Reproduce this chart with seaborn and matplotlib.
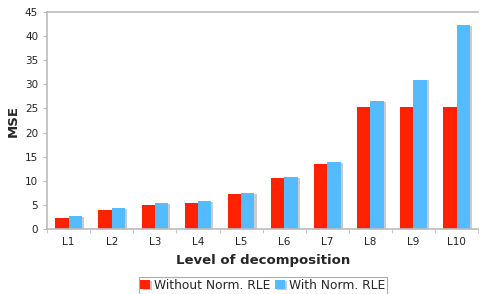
import pandas as pd
import numpy as np
import matplotlib
matplotlib.use("Agg")
import matplotlib.pyplot as plt
import matplotlib.patheffects as pe
import seaborn as sns

# values
levels = ['L1', 'L2', 'L3', 'L4', 'L5', 'L6', 'L7', 'L8', 'L9', 'L10']
without_norm = [2.2, 4.0, 5.0, 5.5, 7.2, 10.5, 13.5, 25.3, 25.3, 25.3]
with_norm = [2.6, 4.3, 5.3, 5.8, 7.4, 10.7, 13.9, 26.5, 31.0, 42.3]
series = ['Without Norm. RLE', 'With Norm. RLE']
colors = ['#FF2200', '#55BBFF']

df = pd.DataFrame({
    'level': levels * 2,
    'mse': without_norm + with_norm,
    'series': [series[0]] * len(levels) + [series[1]] * len(levels),
})

sns.set_style("white")
plt.rcParams['font.family'] = ['DejaVu Sans']

fig = plt.figure(figsize=(4.81, 2.94), dpi=100)
ax = fig.add_axes([0.098, 0.221, 0.896, 0.738])

sns.barplot(data=df, x='level', y='mse', hue='series', palette=colors,
            width=0.62, saturation=1, ax=ax, legend=True)

# light grey drop shadow like the original office chart
shadow = [pe.SimplePatchShadow(offset=(1.5, -0.5), shadow_rgbFace='#999999', alpha=0.5), pe.Normal()]
for p in ax.patches:
    p.set_path_effects(shadow)
    p.set_linewidth(0)

ax.set_ylim(0, 45)
ax.set_yticks(range(0, 46, 5))
ax.set_xlim(-0.5, len(levels) - 0.5)
ax.set_xticks(np.arange(len(levels)))
ax.set_xticks(np.arange(-0.5, len(levels), 1), minor=True)
ax.tick_params(axis='x', which='major', length=0, pad=6, labelsize=7.5, colors='#222222')
ax.tick_params(axis='x', which='minor', length=3, color='#bbbbbb', bottom=True)
ax.tick_params(axis='y', length=3, color='#bbbbbb', left=True, labelsize=7.5, colors='#222222')

for s in ['left', 'bottom', 'top']:
    ax.spines[s].set_color('#bbbbbb')
    ax.spines[s].set_linewidth(1.2)
ax.spines['right'].set_visible(False)

ax.set_xlabel('Level of decomposition', fontsize=9.5, fontweight='bold', labelpad=5)
ax.set_ylabel('MSE', fontsize=9.5, fontweight='bold', labelpad=4)

leg = ax.legend(loc='upper center', bbox_to_anchor=(0.5, -0.222), ncol=2,
                fontsize=8.8, frameon=True, fancybox=False, handlelength=0.8,
                handleheight=0.8, handletextpad=0.3, columnspacing=0.4,
                borderpad=0.15, borderaxespad=0)
leg.get_frame().set_edgecolor('#999999')
leg.get_frame().set_linewidth(0.8)

fig.savefig('out.png', dpi=100)
